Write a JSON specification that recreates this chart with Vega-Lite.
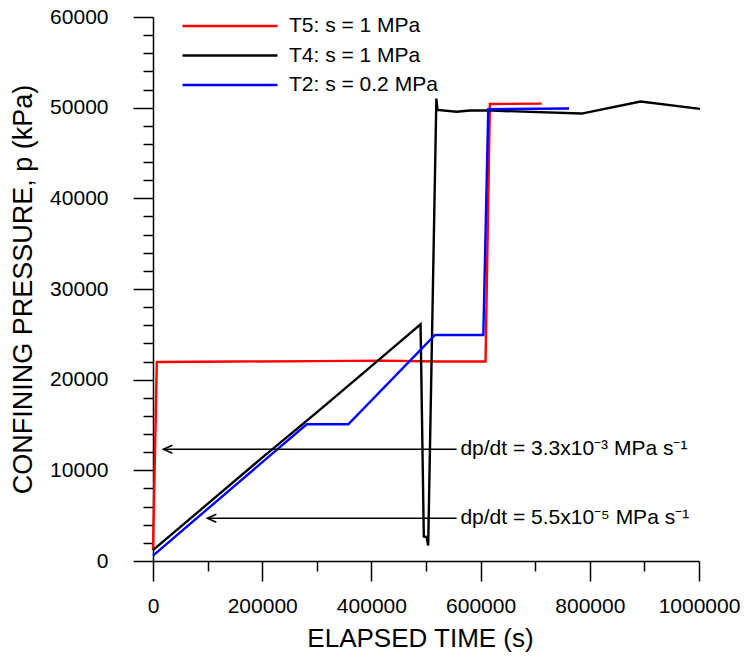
{
  "$schema": "https://vega.github.io/schema/vega-lite/v6.json",
  "width": 546,
  "height": 544,
  "autosize": "none",
  "padding": {"left": 153, "top": 17, "right": 45, "bottom": 95},
  "background": "white",
  "config": {"font": "Liberation Sans", "view": {"stroke": null}},
  "datasets": {
    "curves": [
      {"series": "T5: s = 1 MPa", "t": 0, "p": 1200},
      {"series": "T5: s = 1 MPa", "t": 7000, "p": 21950},
      {"series": "T5: s = 1 MPa", "t": 150000, "p": 22000},
      {"series": "T5: s = 1 MPa", "t": 300000, "p": 22050},
      {"series": "T5: s = 1 MPa", "t": 420000, "p": 22100},
      {"series": "T5: s = 1 MPa", "t": 520000, "p": 22000},
      {"series": "T5: s = 1 MPa", "t": 609000, "p": 22000},
      {"series": "T5: s = 1 MPa", "t": 617000, "p": 50400},
      {"series": "T5: s = 1 MPa", "t": 712000, "p": 50450},
      {"series": "T4: s = 1 MPa", "t": 0, "p": 1200},
      {"series": "T4: s = 1 MPa", "t": 100000, "p": 6300},
      {"series": "T4: s = 1 MPa", "t": 200000, "p": 11400},
      {"series": "T4: s = 1 MPa", "t": 300000, "p": 16400},
      {"series": "T4: s = 1 MPa", "t": 400000, "p": 21500},
      {"series": "T4: s = 1 MPa", "t": 490000, "p": 26100},
      {"series": "T4: s = 1 MPa", "t": 496000, "p": 2700},
      {"series": "T4: s = 1 MPa", "t": 501000, "p": 2650},
      {"series": "T4: s = 1 MPa", "t": 504000, "p": 1700},
      {"series": "T4: s = 1 MPa", "t": 519000, "p": 51000},
      {"series": "T4: s = 1 MPa", "t": 521000, "p": 49760},
      {"series": "T4: s = 1 MPa", "t": 556000, "p": 49550},
      {"series": "T4: s = 1 MPa", "t": 580000, "p": 49680},
      {"series": "T4: s = 1 MPa", "t": 620000, "p": 49680},
      {"series": "T4: s = 1 MPa", "t": 785000, "p": 49350},
      {"series": "T4: s = 1 MPa", "t": 893000, "p": 50680},
      {"series": "T4: s = 1 MPa", "t": 1002000, "p": 49870},
      {"series": "T2: s = 0.2 MPa", "t": 0, "p": 600},
      {"series": "T2: s = 0.2 MPa", "t": 281500, "p": 15080},
      {"series": "T2: s = 0.2 MPa", "t": 357700, "p": 15080},
      {"series": "T2: s = 0.2 MPa", "t": 516500, "p": 24930},
      {"series": "T2: s = 0.2 MPa", "t": 605000, "p": 24930},
      {"series": "T2: s = 0.2 MPa", "t": 614000, "p": 49830},
      {"series": "T2: s = 0.2 MPa", "t": 762000, "p": 49900}
    ],
    "arrows": [
      {"t0": 19000, "t1": 556000, "p": 12320, "tl": 563000, "label": "dp/dt = 3.3x10⁻³ MPa s⁻¹"},
      {"t0": 99500, "t1": 556000, "p": 4710, "tl": 563000, "label": "dp/dt = 5.5x10⁻⁵ MPa s⁻¹"}
    ]
  },
  "layer": [
    {
      "data": {"name": "curves"},
      "mark": {"type": "line", "strokeWidth": 2.4, "clip": false},
      "encoding": {
        "x": {
          "field": "t", "type": "quantitative",
          "scale": {"domain": [0, 1000000], "nice": false, "zero": false},
          "axis": {
            "title": "ELAPSED TIME (s)",
            "titleFontSize": 26, "titleFontWeight": "normal", "titleColor": "black", "titlePadding": 9, "titleX": 267,
            "values": [0, 100000, 200000, 300000, 400000, 500000, 600000, 700000, 800000, 900000, 1000000],
            "tickCount": 100,
            "format": "d",
            "labelExpr": "datum.value % 200000 === 0 ? datum.label : ''",
            "labelFontSize": 21, "labelColor": "black", "labelOverlap": false, "labelFlush": false, "labelPadding": 14,
            "grid": false,
            "domainColor": "black", "domainWidth": 1.5,
            "tickColor": "black", "tickWidth": 1.5,
            "tickSize": {"condition": {"test": "datum.value % 200000 === 0", "value": 20}, "value": 10}
          }
        },
        "y": {
          "field": "p", "type": "quantitative",
          "scale": {"domain": [0, 60000], "nice": false},
          "axis": {
            "title": "CONFINING PRESSURE, p (kPa)",
            "titleFontSize": 27, "titleFontWeight": "normal", "titleColor": "black", "titlePadding": 12,
            "values": [0, 2000, 4000, 6000, 8000, 10000, 12000, 14000, 16000, 18000, 20000, 22000, 24000, 26000, 28000, 30000, 32000, 34000, 36000, 38000, 40000, 42000, 44000, 46000, 48000, 50000, 52000, 54000, 56000, 58000, 60000],
            "tickCount": 100,
            "format": "d",
            "labelExpr": "datum.value % 10000 === 0 ? datum.label : ''",
            "labelFontSize": 21, "labelColor": "black", "labelOverlap": false, "labelFlush": false, "labelPadding": 25,
            "grid": false,
            "domainColor": "black", "domainWidth": 1.5,
            "tickColor": "black", "tickWidth": 1.5,
            "tickSize": {"condition": {"test": "datum.value % 10000 === 0", "value": 20}, "value": 10}
          }
        },
        "color": {
          "field": "series", "type": "nominal",
          "scale": {"domain": ["T5: s = 1 MPa", "T4: s = 1 MPa", "T2: s = 0.2 MPa"], "range": ["#ff0000", "#000000", "#0000ff"]},
          "legend": {
            "orient": "none", "legendX": 28, "legendY": -2, "title": null,
            "symbolType": "stroke", "symbolSize": 9025, "symbolStrokeWidth": 2.5,
            "clipHeight": 22, "rowPadding": 7.5, "padding": 0,
            "labelFontSize": 21, "labelColor": "black", "labelOffset": 10, "labelLimit": 400
          }
        }
      }
    },
    {
      "data": {"name": "arrows"},
      "mark": {"type": "rule", "color": "black", "strokeWidth": 1.5},
      "encoding": {
        "x": {"field": "t0", "type": "quantitative"},
        "x2": {"field": "t1"},
        "y": {"field": "p", "type": "quantitative"}
      }
    },
    {
      "data": {"name": "arrows"},
      "mark": {"type": "point", "shape": "M2.25,-1L0,0L2.25,1", "size": 64, "filled": false, "stroke": "black", "strokeWidth": 1.5, "opacity": 1},
      "encoding": {
        "x": {"field": "t0", "type": "quantitative"},
        "y": {"field": "p", "type": "quantitative"}
      }
    },
    {
      "data": {"name": "arrows"},
      "mark": {"type": "text", "align": "left", "baseline": "middle", "fontSize": 21, "color": "black"},
      "encoding": {
        "x": {"field": "tl", "type": "quantitative"},
        "y": {"field": "p", "type": "quantitative"},
        "text": {"field": "label"}
      }
    }
  ]
}
